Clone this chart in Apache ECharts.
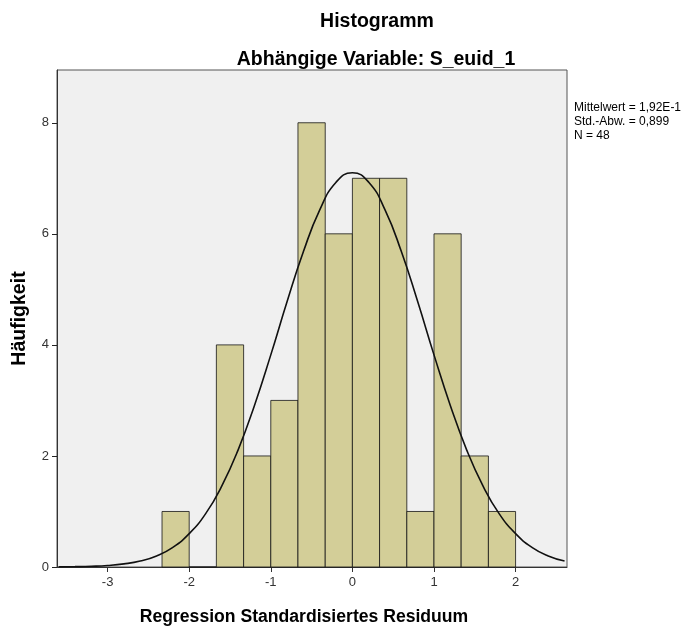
<!DOCTYPE html>
<html>
<head>
<meta charset="utf-8">
<script src="https://cdn.jsdelivr.net/npm/echarts@6/dist/echarts.min.js"></script>
<style>
  html, body { margin: 0; padding: 0; background: #fff; }
  #chart { width: 690px; height: 627px; }
</style>
</head>
<body>
<div id="chart"></div>
<script>
// histogram bins (lower edge, upper edge) and counts
var binStart = [-2.333, -2, -1.667, -1.333, -1, -0.667, -0.333, 0, 0.333, 0.667, 1, 1.333, 1.667];
var binEnd   = [-2, -1.667, -1.333, -1, -0.667, -0.333, 0, 0.333, 0.667, 1, 1.333, 1.667, 2];
var counts   = [1, 0, 4, 2, 3, 8, 6, 7, 7, 1, 6, 2, 1];

// normal curve
var curveX = [-3.6, -3.4, -3.2, -3.0, -2.8, -2.6, -2.4, -2.2, -2.0, -1.8, -1.6, -1.4, -1.2, -1.0, -0.8, -0.6, -0.4, -0.2,
              0, 0.2, 0.4, 0.6, 0.8, 1.0, 1.2, 1.4, 1.6, 1.8, 2.0, 2.2, 2.4, 2.6];
var curveY = [0.002, 0.006, 0.013, 0.027, 0.056, 0.108, 0.20, 0.355, 0.60, 0.956, 1.46, 2.11, 2.91, 3.82, 4.78, 5.68, 6.43, 6.93,
              7.10, 6.93, 6.43, 5.68, 4.78, 3.82, 2.91, 2.11, 1.46, 0.956, 0.60, 0.355, 0.20, 0.108];

var statsLines = ['Mittelwert = 1,92E-1', 'Std.-Abw. = 0,899', 'N = 48'];

var chart = echarts.init(document.getElementById('chart'));

var histData = [];
for (var i = 0; i < counts.length; i++) {
  histData.push([binStart[i], binEnd[i], counts[i]]);
}
var lineData = [];
for (var j = 0; j < curveX.length; j++) {
  lineData.push([curveX[j], curveY[j]]);
}

var option = {
  animation: false,
  textStyle: { fontFamily: 'Liberation Sans, Arial, sans-serif' },
  title: [
    { text: 'Histogramm', left: 372, top: 7, textAlign: 'center',
      textStyle: { fontSize: 19.5, fontWeight: 'bold', color: '#000' } },
    { text: 'Abhängige Variable: S_euid_1', left: 371, top: 45, textAlign: 'center',
      textStyle: { fontSize: 19.5, fontWeight: 'bold', color: '#000' } }
  ],
  grid: { left: 57, right: 123, top: 70, bottom: 60, show: true, containLabel: false, outerBoundsMode: 'none',
    backgroundColor: '#f0f0f0', borderColor: '#555', borderWidth: 1 },
  xAxis: {
    type: 'value', min: -3.62, max: 2.63,
    name: 'Regression Standardisiertes Residuum', nameLocation: 'middle', nameGap: 41,
    nameTextStyle: { fontSize: 17.6, fontWeight: 'bold', color: '#000', padding: [0, 0, 0, -16] },
    splitLine: { show: false },
    axisLine: { show: true, onZero: false, lineStyle: { color: '#333' } },
    axisTick: { show: true, length: 5, lineStyle: { color: '#333' } },
    axisLabel: { color: '#333', fontSize: 13, margin: 9, showMinLabel: false, showMaxLabel: false,
      formatter: function (v) { return Math.round(v) === v ? String(v) : ''; } }
  },
  yAxis: {
    type: 'value', min: 0, max: 8.95, interval: 2,
    name: 'Häufigkeit', nameLocation: 'middle', nameGap: 27,
    nameTextStyle: { fontSize: 19.5, fontWeight: 'bold', color: '#000' },
    splitLine: { show: false },
    axisLine: { show: true, onZero: false, lineStyle: { color: '#333' } },
    axisTick: { show: true, length: 5, lineStyle: { color: '#222' } },
    axisLabel: { color: '#333', fontSize: 13, margin: 8, showMaxLabel: false }
  },
  series: [
    {
      type: 'custom',
      data: histData,
      encode: { x: [0, 1], y: 2 },
      renderItem: function (params, api) {
        var p0 = api.coord([api.value(0), api.value(2)]);
        var p1 = api.coord([api.value(1), 0]);
        return {
          type: 'rect',
          shape: { x: p0[0], y: p0[1], width: p1[0] - p0[0], height: p1[1] - p0[1] },
          style: { fill: '#d3ce98', stroke: 'rgba(20,20,20,0.8)', lineWidth: 1 }
        };
      }
    },
    {
      type: 'line',
      data: lineData,
      smooth: true,
      symbol: 'none',
      lineStyle: { color: '#111', width: 1.6 },
      z: 5
    }
  ],
  graphic: statsLines.map(function (t, k) {
    return { type: 'text', left: 574, top: 102 + k * 14,
      style: { text: t, fontSize: 12, fill: '#000', fontFamily: 'Liberation Sans, Arial, sans-serif' } };
  })
};

chart.setOption(option);
</script>
</body>
</html>
